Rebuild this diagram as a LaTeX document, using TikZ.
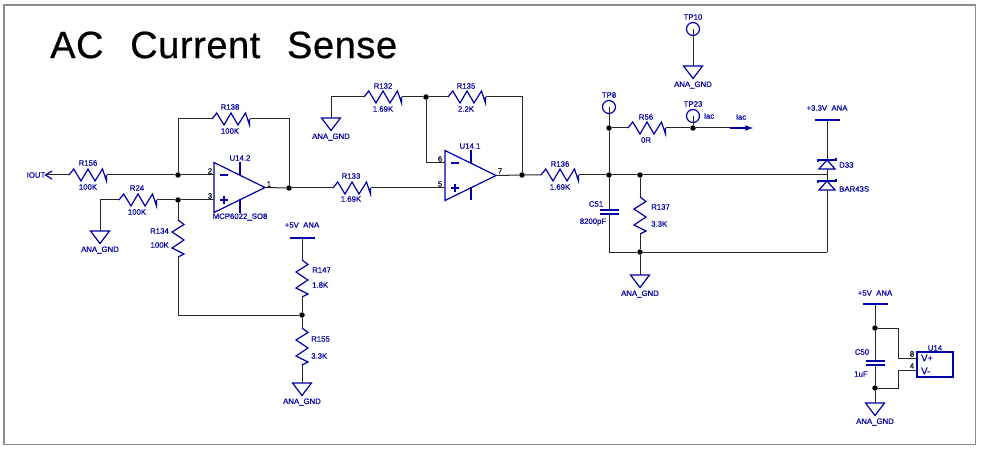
\documentclass[tikz,border=0pt]{standalone}
\usepackage{fontspec}
\setmainfont[FakeBold=.3]{Liberation Sans}
\newfontfamily\ttlfont[WordSpace=2.4, LetterSpace=1.5, FakeBold=.6]{Liberation Sans}
\tikzset{>=latex}
\definecolor{blu}{rgb}{0,0,.66}
\definecolor{frm}{gray}{.55}
\definecolor{wir}{gray}{.15}
\tikzset{
    wire/.style={wir, line width=1pt},
    sym/.style={blu, line width=1.2pt, line join=miter},
    dot/.style={circle, fill=black, inner sep=0pt, minimum size=5.5pt},
    lbl/.style={blu, inner sep=0pt, font=\fontsize{7.8}{9}\selectfont},
    lbr/.style={lbl, anchor=west},
    pin/.style={black, inner sep=0pt, font=\fontsize{7.8}{9}\selectfont},
    hres/.pic={
        \draw[sym](0, 0)--(4.7, -6)--(12, 6)--(19, -6)--(26, 6)--(33.5, -6)--(37.5, 6)--(37.5, 0);
        \coordinate(-a)at(0, 0);
        \coordinate(-b)at(37.5, 0);
    },
    vres/.pic={
        \draw[sym](0, 0)--(6, 4.5)--(-6, 12)--(6, 20)--(-6, 28)--(6, 34)--(0, 37);
        \coordinate(-a)at(0, 0);
        \coordinate(-b)at(0, 37);
    },
    gnd/.pic={
        \draw[sym](-9.5, 0)--(9.5, 0)--(0, 12.5)--cycle;
        \node[lbl](-t)at(0, 19){ANA\_GND};
        \coordinate(-a)at(0, 0);
    },
    rail/.pic={
        \draw[sym](-12.5, 0)--(12.5, 0);
        \coordinate(-a)at(0, 0);
    },
    tpt/.pic={
        \draw[sym](0, 0)circle(6.5);
        \coordinate(-a)at(0, 0);
    },
    cap/.pic={
        \draw[sym](-9.5, -2)--(9.5, -2);
        \draw[sym](-9.5, 2)--(9.5, 2);
        \coordinate(-a)at(0, -2);
        \coordinate(-b)at(0, 2);
    },
    diod/.pic={
        \draw[sym](0, 0)--(-8, 9)--(8, 9)--cycle;
        \draw[sym](-9, 2)--(-9, 0)--(9, 0)--(9, -2);
        \coordinate(-a)at(0, 0);
        \coordinate(-b)at(0, 9);
    },
    opa/.pic={
        \draw[sym](0, -25)--(51, 0)--(0, 25)--cycle;
        \draw[sym](26, -25)--(26, -12);
        \draw[sym](26, 12)--(26, 25);
        \draw[sym](6, -12.5)--(14, -12.5);
        \draw[sym](6, 12.5)--(14, 12.5);
        \draw[sym](10, 8.5)--(10, 16.5);
        \coordinate(-m)at(0, -12.5);
        \coordinate(-p)at(0, 12.5);
        \coordinate(-o)at(51, 0);
    }
}
\begin{document}
\begin{tikzpicture}[x=1pt, y=-1pt]
    \useasboundingbox(0, 0)rectangle(982, 449);
    \draw[frm, line width=1.5pt](4, 5)rectangle(975.5, 444.5);
    \node[anchor=west, inner sep=0pt, font=\fontsize{38}{40}\selectfont\ttlfont](title)at(50, 45){AC Current Sense};
    % first stage
    \pic(U2)at(214, 187.5){opa};
    \node[lbl](U2t)at(240, 158){U14.2};
    \node[lbl](U2n)at(240, 217){MCP6022\_SO8};
    \node[pin](U2i)at(210, 171){2};
    \node[pin](U2j)at(210, 196){3};
    \node[pin](U2k)at(269, 184){1};
    \node[lbl](iout)at(36, 175){IOUT};
    \coordinate(ioutend)at(46, 175);
    \draw[sym](52, 171)--(45.5, 175)--(52, 179);
    \pic(R156)at(69, 175){hres};
    \node[lbl](R156t)at(88, 163){R156};
    \node[lbl](R156v)at(88, 187){100K};
    \pic(R138)at(212, 119){hres};
    \node[lbl](R138t)at(230, 107){R138};
    \node[lbl](R138v)at(230, 131){100K};
    \pic(R24)at(119, 200){hres};
    \node[lbl](R24t)at(137, 188){R24};
    \node[lbl](R24v)at(137, 212){100K};
    \pic(R134)at(178, 220){vres};
    \node[lbl, anchor=east](R134t)at(169, 231){R134};
    \node[lbl, anchor=east](R134v)at(169, 245){100K};
    \node[dot](j1)at(178, 175){};
    \node[dot](j2)at(178, 200){};
    \node[dot](j3)at(289, 188){};
    \pic(G1)at(100, 231){gnd};
    \draw[wire](ioutend)--(R156-a);
    \draw[wire](R156-b)--(j1)--(U2-m);
    \draw[wire](j1)|-(R138-a);
    \draw[wire](R138-b)-|(j3);
    \draw[wire](U2-o)--(j3);
    \draw[wire](G1-a)|-(R24-a);
    \draw[wire](R24-b)--(j2)--(U2-p);
    \draw[wire](j2)--(R134-a);
    % divider
    \pic(V1)at(302, 238){rail};
    \node[lbl](V1t)at(302, 225){+5V~~ANA};
    \pic(R147)at(302, 260){vres};
    \node[lbr](R147t)at(312, 270){R147};
    \node[lbr](R147v)at(312, 285){1.8K};
    \node[dot](j4)at(302, 315){};
    \pic(R155)at(302, 328){vres};
    \node[lbr](R155t)at(311, 339){R155};
    \node[lbr](R155v)at(311, 356){3.3K};
    \pic(G2)at(302, 383){gnd};
    \draw[wire](V1-a)--(R147-a);
    \draw[wire](R147-b)--(j4)--(R155-a);
    \draw[wire](R155-b)--(G2-a);
    \draw[wire](R134-b)|-(j4);
    % second stage
    \pic(U1)at(445, 175.5){opa};
    \node[lbl](U1t)at(470, 146){U14.1};
    \node[pin](U1i)at(440, 159){6};
    \node[pin](U1j)at(440, 184){5};
    \node[pin](U1k)at(500, 171){7};
    \pic(R133)at(333, 188){hres};
    \node[lbl](R133t)at(351, 176){R133};
    \node[lbl](R133v)at(351, 199){1.69K};
    \pic(R132)at(364, 97){hres};
    \node[lbl](R132t)at(383, 86){R132};
    \node[lbl](R132v)at(383, 109){1.69K};
    \pic(R135)at(448, 97){hres};
    \node[lbl](R135t)at(466, 86){R135};
    \node[lbl](R135v)at(466, 109){2.2K};
    \pic(R136)at(541, 175){hres};
    \node[lbl](R136t)at(560, 164){R136};
    \node[lbl](R136v)at(560, 187){1.69K};
    \node[dot](j5)at(426, 97){};
    \node[dot](j6)at(522, 175){};
    \pic(G3)at(331, 118){gnd};
    \draw[wire](j3)--(R133-a);
    \draw[wire](R133-b)--(U1-p);
    \draw[wire](G3-a)|-(R132-a);
    \draw[wire](R132-b)--(j5)--(R135-a);
    \draw[wire](j5)|-(U1-m);
    \draw[wire](R135-b)-|(j6);
    \draw[wire](U1-o)--(j6)--(R136-a);
    % output
    \node[dot](j7)at(609, 175){};
    \node[dot](j8)at(609, 128){};
    \node[dot](j9)at(640, 175){};
    \node[dot](j10)at(640, 252){};
    \node[dot](j11)at(693, 128){};
    \pic(TP8)at(609, 107){tpt};
    \node[lbl](TP8t)at(609, 95){TP8};
    \pic(TP23)at(693, 116){tpt};
    \node[lbl](TP23t)at(693, 104){TP23};
    \node[lbl](iact)at(709, 116){Iac};
    \pic(TP10)at(693, 29){tpt};
    \node[lbl](TP10t)at(693, 17){TP10};
    \pic(G4)at(693, 66){gnd};
    \pic(R56)at(628, 128){hres};
    \node[lbl](R56t)at(646, 117){R56};
    \node[lbl](R56v)at(646, 140){0R};
    \pic(C51)at(609, 212){cap};
    \node[lbl](C51t)at(596, 204){C51};
    \node[lbl](C51v)at(593, 222){8200pF};
    \pic(R137)at(640, 197){vres};
    \node[lbr](R137t)at(651, 207){R137};
    \node[lbr](R137v)at(651, 224){3.3K};
    \pic(G5)at(640, 275){gnd};
    \node[lbl](iacn)at(741, 117){Iac};
    \coordinate(iacm)at(730, 128);
    \coordinate(iace)at(753, 128);
    \coordinate(j12)at(827, 175);
    \coordinate(j13)at(827, 252);
    \pic(V2)at(827, 120){rail};
    \node[lbl](V2t)at(827, 108){+3.3V~~ANA};
    \pic(D33)at(827, 160){diod};
    \node[lbr](D33t)at(839, 165){D33};
    \pic(D34)at(827, 181){diod};
    \node[lbr](D34t)at(839, 189){BAR43S};
    \draw[wire](R136-b)--(j7);
    \draw[wire](TP8-a)--(j8)--(j7)--(C51-a);
    \draw[wire](j8)--(R56-a);
    \draw[wire](R56-b)--(j11)--(iacm);
    \draw[blu, line width=1.6pt, ->](iacm)--(iace);
    \draw[wire](TP23-a)--(j11);
    \draw[wire](TP10-a)--(G4-a);
    \draw[wire](j7)--(j9)--(j12);
    \draw[wire](j9)--(R137-a);
    \draw[wire](R137-b)--(j10)--(G5-a);
    \draw[wire](C51-b)|-(j10)--(j13);
    \draw[wire](V2-a)--(D33-a);
    \draw[wire](D33-b)--(D34-a);
    \draw[wire](D34-b)--(j13);
    % supply
    \pic(V3)at(875, 304){rail};
    \node[lbl](V3t)at(875, 293){+5V~~ANA};
    \node[dot](j14)at(875, 328){};
    \node[dot](j15)at(875, 388){};
    \pic(C50)at(875, 363){cap};
    \node[lbl](C50t)at(862, 352){C50};
    \node[lbl](C50v)at(861, 374){1uF};
    \pic(G6)at(875, 403){gnd};
    \node[draw=blu, line width=1.2pt, minimum width=36pt, minimum height=25pt, inner sep=0pt](U14)at(935, 364.5){};
    \node[lbl](U14t)at(935, 348){U14};
    \node[lbr, font=\fontsize{9.5}{11}\selectfont](vp)at(921, 358){V+};
    \node[lbr, font=\fontsize{9.5}{11}\selectfont](vm)at(921, 371){V-};
    \node[pin](p8)at(912, 354){8};
    \node[pin](p4)at(912, 366){4};
    \coordinate(u8)at(917, 358);
    \coordinate(u4)at(917, 370);
    \coordinate(bx8)at(898, 358);
    \coordinate(bx4)at(898, 370);
    \draw[wire](V3-a)--(j14)--(C50-a);
    \draw[wire](C50-b)--(j15)--(G6-a);
    \draw[wire](j14)-|(bx8)--(u8);
    \draw[wire](j15)-|(bx4)--(u4);
\end{tikzpicture}
\end{document}
